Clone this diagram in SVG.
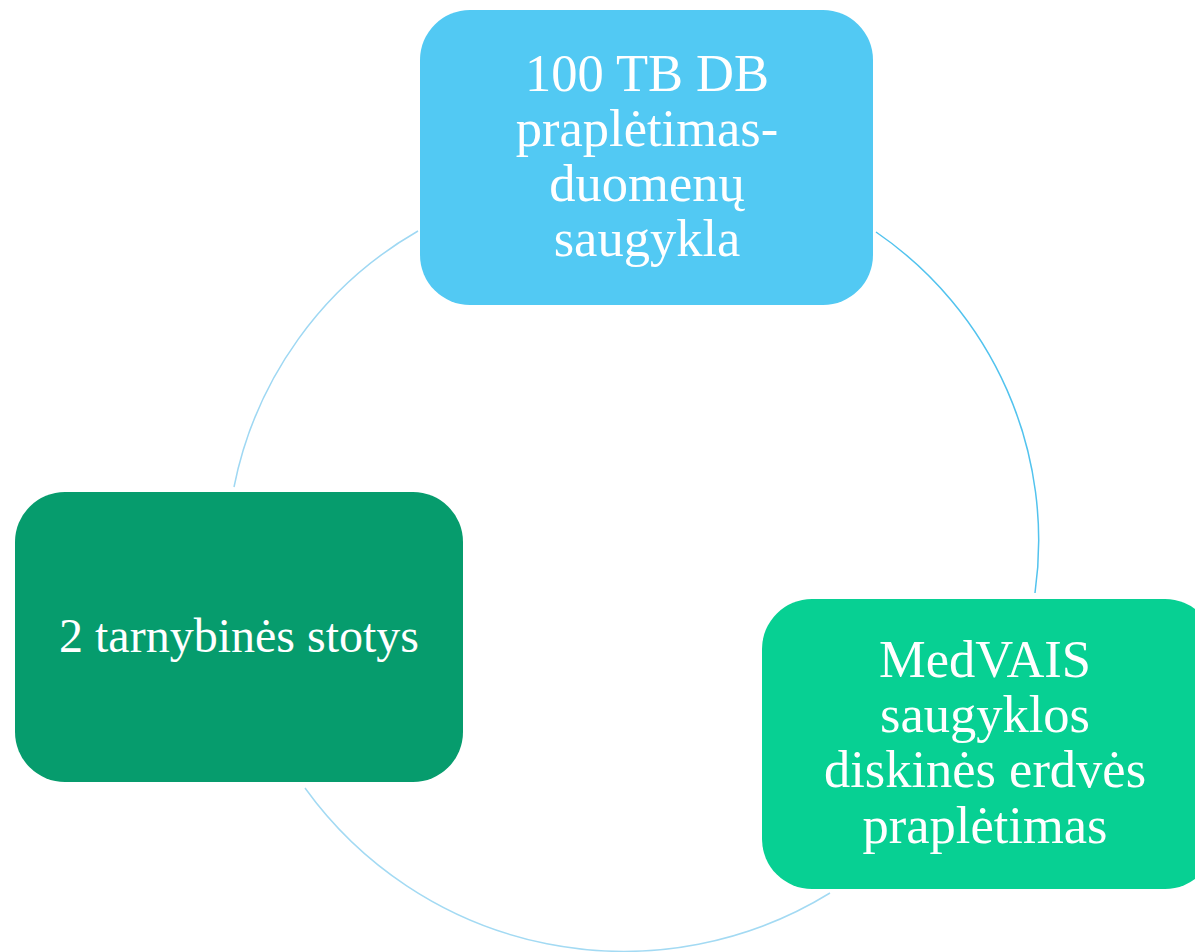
<svg xmlns="http://www.w3.org/2000/svg" width="1195" height="952" viewBox="0 0 1195 952">
<style>
.lbl{font-family:"Liberation Serif","Times New Roman",serif;font-size:48px;fill:#ffffff;text-anchor:middle}
.big{font-size:52.5px}
.arc{fill:none;stroke-width:1.5}
</style>
<rect width="1195" height="952" fill="#ffffff"/>
<g id="connectors">
<path class="arc" stroke="#9fd8f3" d="M234,487 A381,381 0 0 1 418,231"/>
<path class="arc" stroke="#52c3ee" d="M876,232 A374,374 0 0 1 1035,593"/>
<path class="arc" stroke="#a3daf3" d="M830,893 A393,393 0 0 1 305,788"/>
</g>
<g id="node-top">
<rect x="420" y="10" width="453" height="295" rx="50" ry="50" fill="#52c9f3"/>
<text class="lbl big" x="647" y="91">100 TB DB</text>
<text class="lbl big" x="647" y="146">praplėtimas-</text>
<text class="lbl big" x="647" y="201">duomenų</text>
<text class="lbl big" x="647" y="256">saugykla</text>
</g>
<g id="node-left">
<rect x="15" y="492" width="448" height="290" rx="50" ry="50" fill="#069c6d"/>
<text class="lbl" x="239" y="652">2 tarnybinės stotys</text>
</g>
<g id="node-right">
<rect x="762" y="599" width="453" height="290" rx="50" ry="50" fill="#07d093"/>
<text class="lbl big" x="985" y="677">MedVAIS</text>
<text class="lbl big" x="985" y="732">saugyklos</text>
<text class="lbl big" x="985" y="787">diskinės erdvės</text>
<text class="lbl big" x="985" y="843">praplėtimas</text>
</g>
</svg>
